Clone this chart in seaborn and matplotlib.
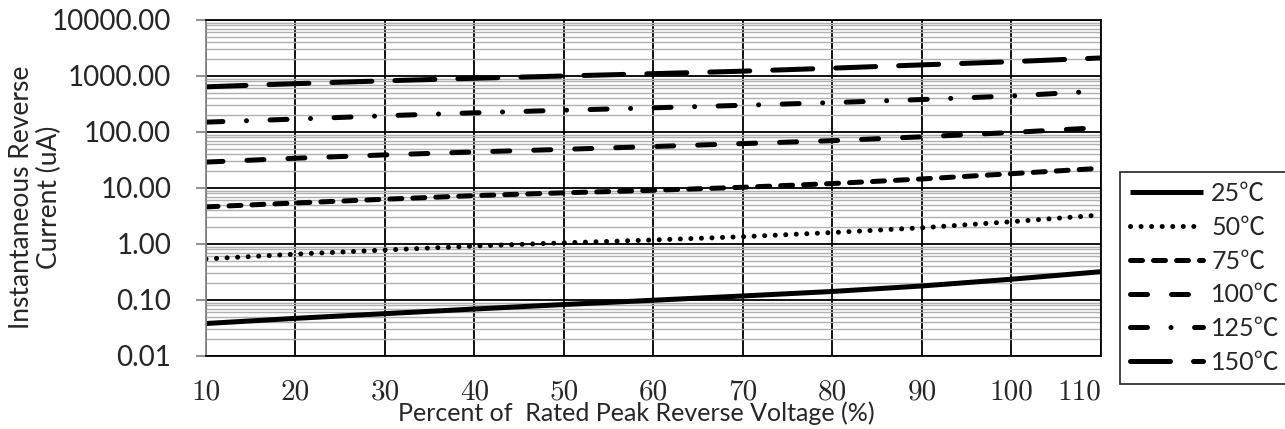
import numpy as np
import pandas as pd
import seaborn as sns
import matplotlib.pyplot as plt
from matplotlib.ticker import LogLocator, FixedLocator, FuncFormatter, NullFormatter

# percent of rated peak reverse voltage
pct = [10, 20, 30, 40, 50, 60, 70, 80, 90, 100, 110]

# instantaneous reverse current (uA) per junction temperature
i25 = [0.038, 0.047, 0.057, 0.069, 0.083, 0.099, 0.118, 0.142, 0.178, 0.235, 0.32]
i50 = [0.54, 0.66, 0.78, 0.92, 1.05, 1.18, 1.35, 1.6, 1.95, 2.5, 3.3]
i75 = [4.6, 5.4, 6.3, 7.3, 8.2, 9.1, 10.3, 12, 14.5, 18, 22.5]
i100 = [29, 34, 39, 44, 49, 55, 62, 70, 82, 98, 120]
i125 = [150, 170, 195, 220, 245, 270, 300, 335, 380, 440, 540]
i150 = [640, 730, 820, 910, 1000, 1100, 1220, 1380, 1580, 1800, 2100]

labels = ['25℃', '50℃', '75℃', '100℃', '125℃', '150℃']
series = [i25, i50, i75, i100, i125, i150]
styles = ['-', (0, (0.01, 2.1)), (0, (2.4, 2.2)), (0, (3.4, 4.8)),
          (0, (3.4, 4.7, 0.01, 4.7)), (0, (8, 4.6))]
widths = [3.6, 3.6, 3.6, 3.6, 3.6, 3.6]

sns.set_style('white')
plt.rcParams['font.family'] = ['Lato', 'Noto Sans CJK SC', 'DejaVu Sans']

fig = plt.figure(figsize=(12.85, 4.29), dpi=100)
ax = fig.add_axes([0.1603, 0.1702, 0.6965, 0.7832])

for lab, vals, ls, lw in zip(labels, series, styles, widths):
    df = pd.DataFrame({'pct': pct, 'cur': vals})
    sns.lineplot(data=df, x='pct', y='cur', ax=ax, color='black', linewidth=lw,
                 linestyle=ls, dash_capstyle='round', solid_capstyle='butt',
                 label=lab)

ax.set_yscale('log')
ax.set_ylim(0.01, 10000)
ax.set_xlim(10, 110)
ax.xaxis.set_major_locator(FixedLocator(pct))
ax.yaxis.set_major_locator(LogLocator(base=10, numticks=10))
ax.yaxis.set_minor_locator(LogLocator(base=10, subs=np.arange(2, 10), numticks=20))
ax.yaxis.set_major_formatter(FuncFormatter(lambda v, p: f'{v:.2f}'))
ax.yaxis.set_minor_formatter(NullFormatter())

ax.grid(which='minor', axis='y', color='#b0b0b0', linewidth=1.0)
ax.grid(which='major', axis='both', color='black', linewidth=1.3)
ax.set_axisbelow(True)

for s in ['top', 'right', 'bottom']:
    ax.spines[s].set_color('black')
    ax.spines[s].set_linewidth(1.3)
ax.spines['left'].set_color('#888888')
ax.spines['left'].set_linewidth(1.3)

ax.tick_params(axis='y', which='major', length=7, width=1.3, color='#888888',
               labelsize=20, pad=18, left=True)
ax.tick_params(axis='y', which='minor', length=0)
ax.tick_params(axis='x', length=0, pad=17, labelsize=21)
xt = ax.get_xticklabels()
for t in xt:
    t.set_family('cmr10')
# last label kept inside the plot area, like the original
xt[-1].set_horizontalalignment('right')

ax.set_xlabel('Percent of  Rated Peak Reverse Voltage (%)', fontsize=18)
ax.xaxis.set_label_coords(0.4805, -0.134)
ax.set_ylabel('Instantaneous Reverse\nCurrent (uA)', fontsize=19, linespacing=1.12)
ax.yaxis.set_label_coords(-0.161, 0.473)

leg = ax.legend(loc='upper left', bbox_to_anchor=(0.8716, 0.599),
                bbox_transform=fig.transFigure, frameon=True, fancybox=False,
                edgecolor='black', handlelength=2.9,
                labelspacing=0.43, borderpad=0.4, handletextpad=0.35,
                borderaxespad=0,
                prop={'family': ['Lato', 'Noto Sans CJK SC', 'DejaVu Sans'], 'size': 18})
leg.get_frame().set_linewidth(1.3)

fig.savefig('out.png', dpi=100)
